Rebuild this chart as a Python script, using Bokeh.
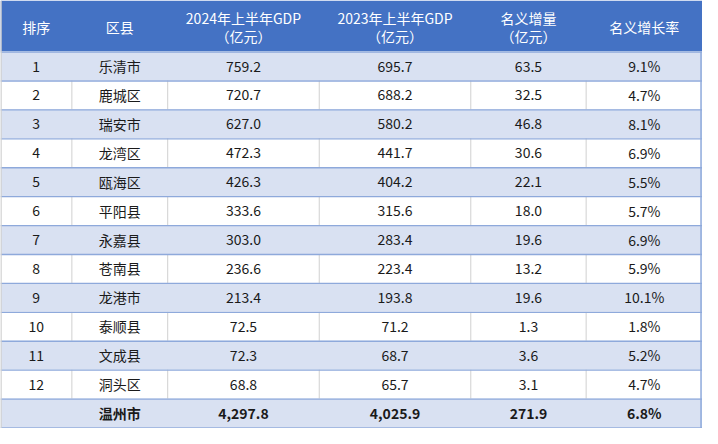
from bokeh.plotting import figure
from bokeh.models import Range1d
from bokeh.core.properties import value
from bokeh.embed import file_html
from bokeh.resources import INLINE

# ---- data ----
headers = ["排序", "区县", "2024年上半年GDP\n（亿元）", "2023年上半年GDP\n（亿元）", "名义增量\n（亿元）", "名义增长率"]
ranks = [1, 2, 3, 4, 5, 6, 7, 8, 9, 10, 11, 12]
districts = ["乐清市", "鹿城区", "瑞安市", "龙湾区", "瓯海区", "平阳县", "永嘉县", "苍南县", "龙港市", "泰顺县", "文成县", "洞头区"]
gdp_2024 = [759.2, 720.7, 627.0, 472.3, 426.3, 333.6, 303.0, 236.6, 213.4, 72.5, 72.3, 68.8]
gdp_2023 = [695.7, 688.2, 580.2, 441.7, 404.2, 315.6, 283.4, 223.4, 193.8, 71.2, 68.7, 65.7]
increase = [63.5, 32.5, 46.8, 30.6, 22.1, 18.0, 19.6, 13.2, 19.6, 1.3, 3.6, 3.1]
growth = [9.1, 4.7, 8.1, 6.9, 5.5, 5.7, 6.9, 5.9, 10.1, 1.8, 5.2, 4.7]
total_name = "温州市"
total_2024 = 4297.8
total_2023 = 4025.9
total_increase = 271.9
total_growth = 6.8

# ---- layout (reference pixel space) ----
W, H = 718, 444
col_edges = [0, 73, 171, 326, 481, 599, 718]
col_centers = [(a + b) / 2 for a, b in zip(col_edges[:-1], col_edges[1:])]
header_h = 53
row_h = 30
n = len(ranks)

FONT = "Noto Sans CJK SC"
BLUE = "#4472C4"
LIGHT = "#D9E1F2"
LINE = "#8EA9DB"
GRID = "#D0D0D0"
TXT = "#1a1a1a"
FS = "14px"

p = figure(width=702, height=428, output_backend="svg", toolbar_location=None,
           x_range=Range1d(0, W), y_range=Range1d(H, 0), min_border=0,
           outline_line_color=None)
p.axis.visible = False
p.grid.visible = False
p.background_fill_color = "white"
p.border_fill_color = "white"

# header background
p.quad(left=[0], right=[W], top=[0], bottom=[header_h], fill_color=BLUE, line_color=None)

# row backgrounds
tops = [header_h + row_h * i for i in range(n + 1)]
bottoms = [t + row_h for t in tops]
fills = [LIGHT if i % 2 == 0 else "white" for i in range(n)] + [LIGHT]
p.quad(left=[0] * (n + 1), right=[W] * (n + 1), top=tops, bottom=bottoms,
       fill_color=fills, line_color=None)

# vertical grid lines in white rows
xs, ys = [], []
for i in range(n):
    if i % 2 == 1:
        for e in col_edges[1:-1]:
            xs.append([e, e])
            ys.append([tops[i], bottoms[i]])
p.multi_line(xs, ys, line_color=GRID, line_width=1)

# horizontal lines
hx = [[0, W] for _ in range(n + 2)]
hy = [[header_h + row_h * i + 0.5, header_h + row_h * i + 0.5] for i in range(n + 2)]
p.multi_line(hx, hy, line_color=LINE, line_width=1.3)
# outer borders
p.multi_line([[0.5, 0.5], [W - 1.5, W - 1.5]], [[0, H], [header_h, H]],
             line_color=[GRID, LINE], line_width=1.5)

# header text
hx_t, hy_t, ht = [], [], []
for c, h in zip(col_centers, headers):
    lines = h.split("\n")
    if len(lines) == 1:
        hx_t.append(c); hy_t.append(27); ht.append(lines[0])
    else:
        hx_t += [c, c]; hy_t += [18, 37]; ht += lines
p.text(x=hx_t, y=hy_t, text=ht, text_color="white", text_align="center",
       text_baseline="middle", text_font=value(FONT), text_font_size=FS)

# body text
bx, by, bt = [], [], []
for i in range(n):
    cy = tops[i] + row_h / 2
    vals = [str(ranks[i]), districts[i], f"{gdp_2024[i]:.1f}", f"{gdp_2023[i]:.1f}",
            f"{increase[i]:.1f}", f"{growth[i]:.1f}%"]
    for c, v in zip(col_centers, vals):
        bx.append(c); by.append(cy); bt.append(v)
p.text(x=bx, y=by, text=bt, text_color=TXT, text_align="center",
       text_baseline="middle", text_font=value(FONT), text_font_size=FS)

# total row
cy = tops[n] + row_h / 2
tvals = [total_name, f"{total_2024:,.1f}", f"{total_2023:,.1f}", f"{total_increase:,.1f}", f"{total_growth:.1f}%"]
p.text(x=col_centers[1:], y=[cy] * 5, text=tvals, text_color=TXT, text_align="center",
       text_baseline="middle", text_font=value(FONT), text_font_size=FS,
       text_font_style="bold")

open("out.html", "w").write(file_html(p, INLINE))
